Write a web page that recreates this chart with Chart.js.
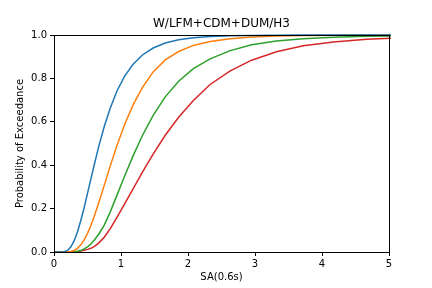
<!DOCTYPE html>
<html>
<head>
<meta charset="utf-8">
<script src="https://cdn.jsdelivr.net/npm/chart.js@4/dist/chart.umd.min.js"></script>
<style>
  html, body { margin: 0; padding: 0; background: #fff; }
  #wrap { width: 432px; height: 288px; }
</style>
</head>
<body>
<div id="wrap"><canvas id="chart" width="432" height="288"></canvas></div>
<script>
var chartTitle = 'W/LFM+CDM+DUM/H3';
var xLabel = 'SA(0.6s)';
var yLabel = 'Probability of Exceedance';

var saValues = [0, 0.1, 0.15, 0.2, 0.25, 0.3, 0.35, 0.4, 0.45, 0.5, 0.55, 0.6, 0.67, 0.75, 0.84, 0.94,
    1.05, 1.18, 1.32, 1.48, 1.66, 1.86, 2.08, 2.33, 2.63, 2.95, 3.32, 3.72, 4.17, 4.67, 5.23];

var slightDamage = [0, 0, 0.001, 0.007, 0.023, 0.051, 0.092, 0.145, 0.204, 0.27, 0.336, 0.401, 0.489, 0.578, 0.664, 0.742,
    0.808, 0.865, 0.908, 0.94, 0.963, 0.978, 0.987, 0.993, 0.997, 0.998, 0.999, 1, 1, 1, 1];
var moderateDamage = [0, 0, 0, 0.001, 0.002, 0.007, 0.017, 0.033, 0.056, 0.086, 0.122, 0.164, 0.229, 0.307, 0.397, 0.491,
    0.584, 0.678, 0.758, 0.83, 0.885, 0.924, 0.952, 0.97, 0.983, 0.991, 0.995, 0.998, 0.999, 1, 1];
var extensiveDamage = [0, 0, 0, 0, 0, 0.001, 0.003, 0.007, 0.014, 0.024, 0.037, 0.054, 0.083, 0.124, 0.185, 0.262,
    0.347, 0.443, 0.537, 0.63, 0.715, 0.787, 0.845, 0.89, 0.928, 0.955, 0.972, 0.983, 0.99, 0.994, 0.997];
var completeDamage = [0, 0, 0, 0, 0, 0.001, 0.002, 0.004, 0.008, 0.012, 0.017, 0.025, 0.042, 0.068, 0.108, 0.16,
    0.219, 0.291, 0.368, 0.451, 0.538, 0.621, 0.698, 0.772, 0.835, 0.884, 0.923, 0.95, 0.968, 0.98, 0.988];

var xTicks = [0, 1, 2, 3, 4, 5];
var yTicks = [0, 0.2, 0.4, 0.6, 0.8, 1.0];

var seriesColors = ['#1f77b4', '#ff7f0e', '#2ca02c', '#d62728'];
var allSeries = [slightDamage, moderateDamage, extensiveDamage, completeDamage];

function toPoints(ys) {
    return saValues.map(function(x, i) { return { x: x, y: ys[i] }; });
}

var font = "'DejaVu Sans', sans-serif";

// full box around plot area like matplotlib spines, plus title centred over the axes
var frameBox = {
    id: 'frameBox',
    afterDraw: function(chart) {
        var a = chart.chartArea, ctx = chart.ctx;
        ctx.save();
        ctx.strokeStyle = '#000';
        ctx.lineWidth = 1;
        ctx.strokeRect(Math.round(a.left) + 0.5, Math.round(a.top) + 0.5,
            Math.round(a.right - a.left), Math.round(a.bottom - a.top));
        ctx.fillStyle = '#000';
        ctx.font = '12px ' + font;
        ctx.textAlign = 'center';
        ctx.textBaseline = 'middle';
        ctx.fillText(chartTitle, (a.left + a.right) / 2, 24);
        ctx.restore();
    }
};

new Chart(document.getElementById('chart').getContext('2d'), {
    type: 'scatter',
    data: {
        datasets: allSeries.map(function(ys, i) {
            return {
                data: toPoints(ys),
                showLine: true,
                borderColor: seriesColors[i],
                backgroundColor: seriesColors[i],
                borderWidth: 1.5,
                pointRadius: 0,
                tension: 0,
                clip: 2
            };
        })
    },
    options: {
        responsive: false,
        animation: false,
        devicePixelRatio: 1,
        layout: { padding: { left: 0, right: 43, top: 35, bottom: 0 } },
        plugins: {
            legend: { display: false },
            tooltip: { enabled: false },
            title: { display: false }
        },
        scales: {
            x: {
                type: 'linear',
                min: 0,
                max: 5,
                afterBuildTicks: function(scale) { scale.ticks = xTicks.map(function(v) { return { value: v }; }); },
                afterFit: function(scale) { scale.height = 36; },
                grid: { drawOnChartArea: false, tickLength: 4, color: '#000' },
                border: { color: '#000' },
                ticks: {
                    color: '#000',
                    font: { family: font, size: 10 },
                    padding: 2,
                    maxRotation: 0,
                    callback: function(v) { return String(v); }
                },
                title: {
                    display: true,
                    text: xLabel,
                    color: '#000',
                    font: { family: font, size: 10 },
                    padding: { top: 0, bottom: 5 }
                }
            },
            y: {
                type: 'linear',
                min: 0,
                max: 1,
                afterBuildTicks: function(scale) { scale.ticks = yTicks.map(function(v) { return { value: v }; }); },
                afterFit: function(scale) { scale.width = 54; },
                grid: { drawOnChartArea: false, tickLength: 4, color: '#000' },
                border: { color: '#000' },
                ticks: {
                    color: '#000',
                    font: { family: font, size: 10 },
                    padding: 3,
                    callback: function(v) { return v.toFixed(1); }
                },
                title: {
                    display: true,
                    text: yLabel,
                    color: '#000',
                    font: { family: font, size: 10 },
                    padding: { top: 14, bottom: 0 }
                }
            }
        }
    },
    plugins: [frameBox]
});
</script>
</body>
</html>
